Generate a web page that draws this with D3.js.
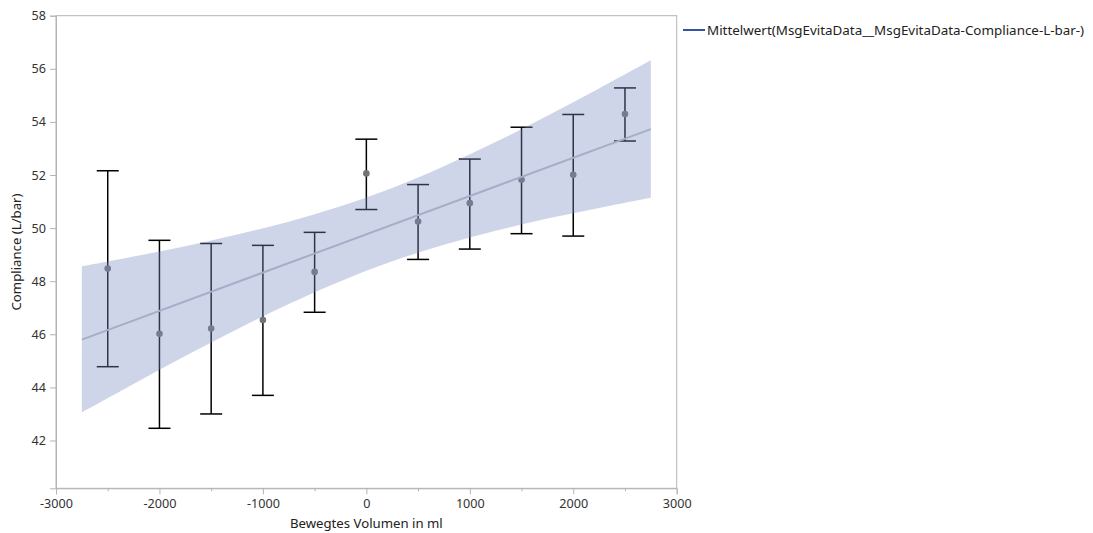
<!DOCTYPE html>
<html>
<head>
<meta charset="utf-8">
<script src="https://cdn.jsdelivr.net/npm/d3@7"></script>
<style>
  body { margin: 0; background: #fff; }
  text { font-family: "Noto Sans", "Open Sans", sans-serif; }
</style>
</head>
<body>
<div id="my_dataviz"></div>
<script>
// data
var volumes = [-2500, -2000, -1500, -1000, -500, 0, 500, 1000, 1500, 2000, 2500];
var means   = [48.48, 46.02, 46.22, 46.54, 48.35, 52.06, 50.25, 50.94, 51.82, 52.01, 54.30];
var uppers  = [52.16, 49.54, 49.42, 49.35, 49.84, 53.35, 51.64, 52.60, 53.80, 54.28, 55.28];
var lowers  = [44.78, 42.46, 43.00, 43.70, 46.83, 50.70, 48.82, 49.21, 49.79, 49.70, 53.28];

// fitted line end points and confidence band
var fitX = [-2750, 2750];
var fitY = [45.80, 53.73];
var bandX     = [-2750, -2250, -1750, -1250, -750, -250, 250, 750, 1250, 1750, 2250, 2750];
var bandUpper = [48.56, 48.93, 49.32, 49.76, 50.24, 50.82, 51.51, 52.33, 53.24, 54.23, 55.26, 56.32];
var bandLower = [43.06, 44.13, 45.18, 46.19, 47.14, 48.00, 48.75, 49.37, 49.90, 50.36, 50.76, 51.14];

var xTicks = [-3000, -2000, -1000, 0, 1000, 2000, 3000];
var xMinorTicks = [-2500, -1500, -500, 500, 1500, 2500];
var yTicks = [42, 44, 46, 48, 50, 52, 54, 56, 58];

var legendLabel = "Mittelwert(MsgEvitaData__MsgEvitaData-Compliance-L-bar-)";

var margin = {top: 15.7, left: 56},
    width = 620.7,
    height = 472.6;

var svg = d3.select("#my_dataviz")
    .append("svg")
    .attr("width", 1093)
    .attr("height", 533);

var g = svg.append("g")
    .attr("transform", "translate(" + margin.left + "," + margin.top + ")");

var x = d3.scaleLinear()
    .domain([-3000, 3000])
    .range([0, width]);

var y = d3.scaleLinear()
    .domain([40.2, 58])
    .range([height, 0]);

// frame
g.append("rect")
    .attr("width", width)
    .attr("height", height)
    .attr("fill", "none")
    .attr("stroke", "#b4b4b4")
    .attr("stroke-width", 1);

// axes
var xAxis = g.append("g")
    .attr("transform", "translate(0," + height + ")")
    .call(d3.axisBottom(x).tickValues(xTicks).tickSize(6).tickPadding(5)
        .tickFormat(d3.format("d")));

g.append("g")
    .attr("transform", "translate(0," + height + ")")
    .call(d3.axisBottom(x).tickValues(xMinorTicks).tickSize(3).tickFormat(""))
    .call(function (s) { s.select(".domain").remove(); });

var yAxis = g.append("g")
    .call(d3.axisLeft(y).tickValues(yTicks).tickSize(6).tickPadding(4));

g.selectAll(".domain").attr("stroke", "#b4b4b4");
g.selectAll(".tick line").attr("stroke", "#b4b4b4");
g.selectAll(".tick text")
    .attr("fill", "#333")
    .style("font-size", "12.6px")
    .style("font-family", "'Noto Sans', sans-serif");

// minus sign as hyphen
xAxis.selectAll(".tick text").text(function (d) { return String(d); });

// error bars
var bars = g.append("g");
var capHalf = 11;
volumes.forEach(function (v, i) {
    var cx = x(v);
    bars.append("line")
        .attr("x1", cx).attr("x2", cx)
        .attr("y1", y(uppers[i])).attr("y2", y(lowers[i]))
        .attr("stroke", "#000").attr("stroke-width", 1.5);
    bars.append("line")
        .attr("x1", cx - capHalf).attr("x2", cx + capHalf)
        .attr("y1", y(uppers[i])).attr("y2", y(uppers[i]))
        .attr("stroke", "#000").attr("stroke-width", 1.5);
    bars.append("line")
        .attr("x1", cx - capHalf).attr("x2", cx + capHalf)
        .attr("y1", y(lowers[i])).attr("y2", y(lowers[i]))
        .attr("stroke", "#000").attr("stroke-width", 1.5);
});

// means
g.append("g")
    .selectAll("circle")
    .data(volumes)
    .enter()
    .append("circle")
    .attr("cx", function (d) { return x(d); })
    .attr("cy", function (d, i) { return y(means[i]); })
    .attr("r", 3.3)
    .attr("fill", "#737373");

// confidence band
g.append("path")
    .datum(bandX)
    .attr("fill", "#7a8dc3")
    .attr("fill-opacity", 0.37)
    .attr("d", d3.area()
        .curve(d3.curveCatmullRom)
        .x(function (d) { return x(d); })
        .y0(function (d, i) { return y(bandLower[i]); })
        .y1(function (d, i) { return y(bandUpper[i]); })
    );

// fit line
g.append("path")
    .datum(fitX)
    .attr("fill", "none")
    .attr("stroke", "#a3afc8")
    .attr("stroke-width", 2)
    .attr("d", d3.line()
        .x(function (d) { return x(d); })
        .y(function (d, i) { return y(fitY[i]); })
    );

// axis titles
svg.append("text")
    .attr("transform", "translate(21," + (margin.top + height / 2) + ") rotate(-90)")
    .attr("text-anchor", "middle")
    .style("font-size", "13.2px")
    .attr("fill", "#222")
    .text("Compliance (L/bar)");

svg.append("text")
    .attr("x", margin.left + width / 2)
    .attr("y", 528)
    .attr("text-anchor", "middle")
    .style("font-size", "13.2px")
    .attr("fill", "#222")
    .text("Bewegtes Volumen in ml");

// legend
svg.append("line")
    .attr("x1", 683).attr("x2", 705)
    .attr("y1", 30).attr("y2", 30)
    .attr("stroke", "#3552a5")
    .attr("stroke-width", 2);

svg.append("text")
    .attr("x", 707)
    .attr("y", 34.5)
    .style("font-size", "13.4px")
    .attr("fill", "#222")
    .text(legendLabel);
</script>
</body>
</html>
